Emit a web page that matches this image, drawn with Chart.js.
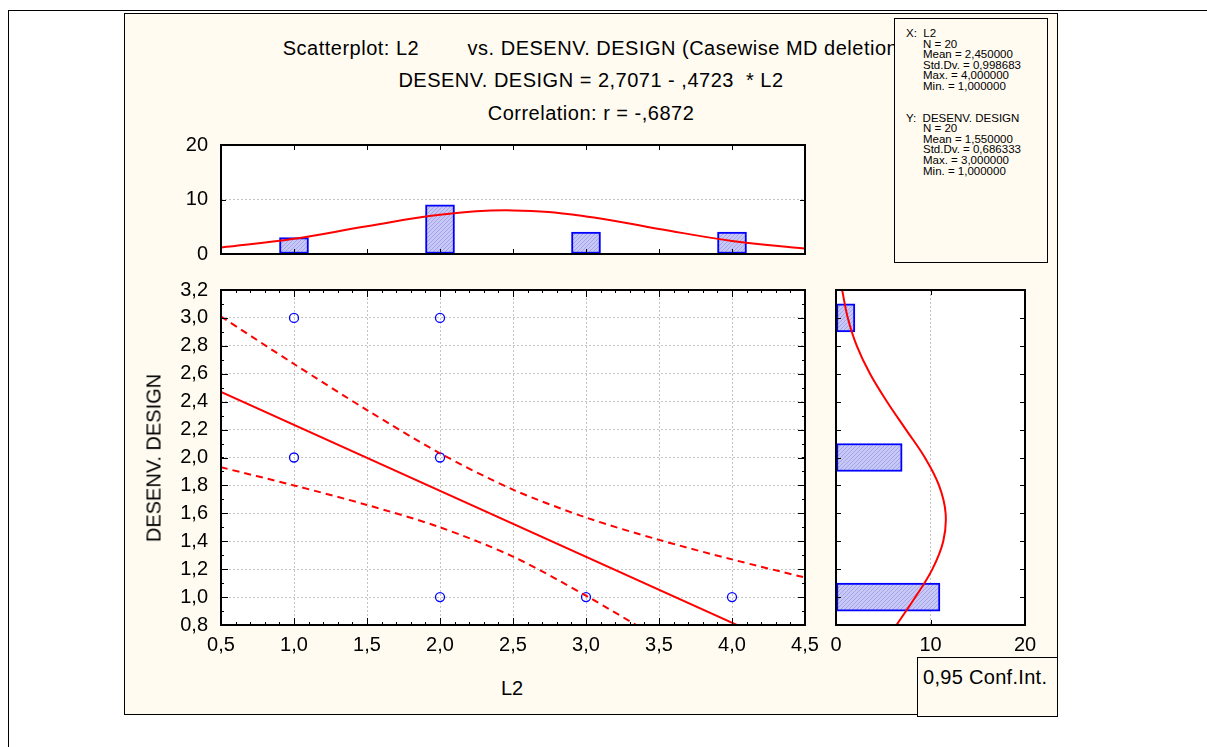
<!DOCTYPE html>
<html>
<head>
<meta charset="utf-8">
<script src="https://cdn.jsdelivr.net/npm/chart.js@4"></script>
<style>
  body { margin: 0; width: 1207px; height: 747px; background: #fff; position: relative; overflow: hidden;
         font-family: "Liberation Sans", Arial, sans-serif; color: #000; }
  .abs { position: absolute; }
  #frame { left: 8px; top: 10px; width: 1300px; height: 800px; border: 1px solid #000; }
  #panel { left: 124px; top: 13px; width: 934px; height: 702px; box-sizing: border-box;
           background: #fffbf0; border: 1px solid #000; }
  .title { left: 591px; transform: translate(-50%, -50%); white-space: pre; font-size: 20px; letter-spacing: 0.5px; }
  #stats { left: 894px; top: 18px; width: 154px; height: 245px; box-sizing: border-box;
           border: 1px solid #000; background: #fffbf0; font-size: 11.5px; line-height: 10.6px; }
  #stats div { white-space: pre; }
  #ci { left: 917px; top: 657px; width: 141px; height: 60px; box-sizing: border-box;
        border: 1px solid #000; background: #fffbf0; font-size: 20px; letter-spacing: 0.3px; padding: 8px 0 0 5px; }
  canvas { position: absolute; }
</style>
</head>
<body>
<div id="frame" class="abs"></div>
<div id="panel" class="abs"></div>

<div class="abs title" style="top:48px;left:594px">Scatterplot: L2        vs. DESENV. DESIGN (Casewise MD deletion)</div>
<div class="abs title" style="top:80px">DESENV. DESIGN = 2,7071 - ,4723  * L2</div>
<div class="abs title" style="top:113px">Correlation: r = -,6872</div>

<div id="stats" class="abs">
  <div style="margin:9px 0 0 11px">X:  L2</div>
  <div style="margin-left:28px">N = 20
Mean = 2,450000
Std.Dv. = 0,998683
Max. = 4,000000
Min. = 1,000000</div>
  <div style="margin:21px 0 0 11px">Y:  DESENV. DESIGN</div>
  <div style="margin-left:28px">N = 20
Mean = 1,550000
Std.Dv. = 0,686333
Max. = 3,000000
Min. = 1,000000</div>
</div>

<canvas id="topHist" style="left:160px;top:125px" width="665" height="150"></canvas>
<canvas id="scatter" style="left:160px;top:270px" width="665" height="400"></canvas>
<canvas id="rightHist" style="left:816px;top:270px" width="240" height="400"></canvas>

<div class="abs" style="left:512px;top:688px;transform:translate(-50%,-50%);font-size:20px">L2</div>
<div class="abs" style="left:154px;top:458px;transform:translate(-50%,-50%) rotate(-90deg);font-size:20px;white-space:nowrap">DESENV. DESIGN</div>

<div id="ci" class="abs">0,95 Conf.Int.</div>

<script>
'use strict';

// scatter data (L2 vs DESENV. DESIGN)
var pointX = [1, 2, 1, 2, 2, 3, 4];
var pointY = [3, 3, 2, 2, 1, 1, 1];

// fitted line and 0,95 band
var fitX = [0.5, 4.5];
var fitY = [2.47, 0.58];
var bandX = [0.5, 1.0, 1.5, 2.0, 2.5, 3.0, 3.5, 4.0, 4.5];
var upperY = [3.01, 2.67, 2.34, 2.03, 1.77, 1.57, 1.41, 1.27, 1.14];
var lowerY = [1.93, 1.80, 1.66, 1.50, 1.29, 1.01, 0.70, 0.37, 0.02];

// histogram of L2 (top)
var xBins = [1, 2, 3, 4];
var xCounts = [3, 9, 4, 4];
var xCurveX = [0.5, 1.0, 1.5, 2.0, 2.5, 3.0, 3.5, 4.0, 4.5];
var xCurveY = [1.2, 2.8, 5.1, 7.2, 8.0, 6.9, 4.6, 2.4, 1.0];

// histogram of DESENV. DESIGN (right)
var yBins = [1, 2, 3];
var yCounts = [11, 7, 2];
var yCurveY = [0.8, 1.0, 1.2, 1.4, 1.6, 1.8, 2.0, 2.2, 2.4, 2.6, 2.8, 3.0, 3.2];
var yCurveX = [6.4, 8.4, 10.2, 11.35, 11.6, 10.9, 9.4, 7.4, 5.4, 3.6, 2.2, 1.25, 0.65];

// tick labels
var xTickValues = [0.5, 1.0, 1.5, 2.0, 2.5, 3.0, 3.5, 4.0, 4.5];
var xTickLabels = ['0,5', '1,0', '1,5', '2,0', '2,5', '3,0', '3,5', '4,0', '4,5'];
var yTickValues = [0.8, 1.0, 1.2, 1.4, 1.6, 1.8, 2.0, 2.2, 2.4, 2.6, 2.8, 3.0, 3.2];
var yTickLabels = ['0,8', '1,0', '1,2', '1,4', '1,6', '1,8', '2,0', '2,2', '2,4', '2,6', '2,8', '3,0', '3,2'];
var countTickValues = [0, 10, 20];
var countTickLabels = ['0', '10', '20'];

function pairs(xs, ys) {
    return xs.map(function (v, i) { return { x: v, y: ys[i] }; });
}

function fixTicks(values) {
    return function (scale) {
        scale.ticks = values.map(function (v) { return { value: v }; });
    };
}

// fixed axis size, no extra label padding
function fitTo(prop, size) {
    return function (s) {
        s[prop] = size;
        s.paddingTop = 0; s.paddingBottom = 0;
        s.paddingLeft = 0; s.paddingRight = 0;
    };
}

function hatch() {
    var c = document.createElement('canvas');
    c.width = 4; c.height = 4;
    var g = c.getContext('2d');
    g.fillStyle = '#c8c8f6';
    g.fillRect(0, 0, 4, 4);
    g.strokeStyle = '#a4a4ea';
    g.lineWidth = 1;
    g.beginPath();
    g.moveTo(0, 4); g.lineTo(4, 0);
    g.stroke();
    return g.createPattern(c, 'repeat');
}
var barFill = hatch();

// white plot area, black box, inward ticks on all sides
var framePlugin = {
    id: 'frame',
    beforeDraw: function (chart) {
        var a = chart.chartArea, ctx = chart.ctx;
        ctx.save();
        ctx.fillStyle = '#fff';
        ctx.fillRect(a.left, a.top, a.right - a.left, a.bottom - a.top);
        ctx.restore();
    },
    afterDraw: function (chart, args, opts) {
        var a = chart.chartArea, ctx = chart.ctx;
        var x = chart.scales.x, y = chart.scales.y;
        ctx.save();
        ctx.strokeStyle = '#000';
        ctx.lineWidth = 1;
        ctx.beginPath();
        function xTick(v, len) {
            var p = Math.round(x.getPixelForValue(v)) + 0.5;
            ctx.moveTo(p, a.bottom); ctx.lineTo(p, a.bottom - len);
            ctx.moveTo(p, a.top); ctx.lineTo(p, a.top + len);
        }
        function yTick(v, len) {
            var p = Math.round(y.getPixelForValue(v)) + 0.5;
            ctx.moveTo(a.left, p); ctx.lineTo(a.left + len, p);
            ctx.moveTo(a.right, p); ctx.lineTo(a.right - len, p);
        }
        var v;
        if (opts.xMinor) {
            for (v = x.min; v <= x.max + 1e-9; v += opts.xMinor) xTick(v, 3);
        }
        if (opts.yMinor) {
            for (v = y.min; v <= y.max + 1e-9; v += opts.yMinor) yTick(v, 3);
        }
        x.ticks.forEach(function (t) { xTick(t.value, opts.len || 6); });
        y.ticks.forEach(function (t) { yTick(t.value, opts.len || 6); });
        ctx.stroke();
        ctx.lineWidth = 2;
        ctx.strokeRect(a.left, a.top, a.right - a.left, a.bottom - a.top);
        ctx.restore();
    }
};

Chart.defaults.font.family = '"Liberation Sans", Arial, sans-serif';
Chart.defaults.font.size = 20;
Chart.defaults.color = '#000';
Chart.defaults.animation = false;
Chart.defaults.plugins.legend.display = false;
Chart.defaults.plugins.tooltip.enabled = false;
Chart.register(framePlugin);

var dotted = { color: '#c4c4c4', lineWidth: 1, drawTicks: false };

// Top histogram
new Chart(document.getElementById('topHist'), {
    type: 'bar',
    data: {
        datasets: [{
            type: 'line',
            data: pairs(xCurveX, xCurveY),
            borderColor: '#ff0000',
            borderWidth: 2,
            pointRadius: 0,
            tension: 0.4
        }, {
            data: pairs(xBins, xCounts),
            backgroundColor: barFill,
            borderColor: '#0000ff',
            borderWidth: 2,
            borderSkipped: false,
            barThickness: 29
        }]
    },
    options: {
        responsive: false,
        layout: { autoPadding: false, padding: { top: 20, right: 20, bottom: 10, left: 0 } },
        plugins: { frame: { len: 5 } },
        scales: {
            x: {
                type: 'linear', min: 0.5, max: 4.5, offset: false,
                afterBuildTicks: fixTicks(xTickValues),
                afterFit: fitTo('height', 11),
                ticks: { display: false },
                grid: { display: false },
                border: { display: false }
            },
            y: {
                min: 0, max: 20,
                afterBuildTicks: fixTicks(countTickValues),
                afterFit: fitTo('width', 61),
                ticks: { padding: 13, callback: function (v, i) { return countTickLabels[i]; } },
                grid: dotted,
                border: { display: false, dash: [2, 2] }
            }
        }
    }
});

// Scatterplot
new Chart(document.getElementById('scatter'), {
    type: 'scatter',
    data: {
        datasets: [{
            data: pairs(fitX, fitY),
            showLine: true,
            borderColor: '#ff0000',
            borderWidth: 2,
            pointRadius: 0
        }, {
            data: pairs(bandX, upperY),
            showLine: true,
            borderColor: '#ff0000',
            borderWidth: 2,
            borderDash: [7, 5],
            pointRadius: 0,
            tension: 0.3
        }, {
            data: pairs(bandX, lowerY),
            showLine: true,
            borderColor: '#ff0000',
            borderWidth: 2,
            borderDash: [7, 5],
            pointRadius: 0,
            tension: 0.3
        }, {
            data: pairs(pointX, pointY),
            pointRadius: 4.5,
            pointBorderWidth: 1.3,
            borderColor: '#0000ff',
            backgroundColor: 'rgba(0,0,0,0)'
        }]
    },
    options: {
        responsive: false,
        layout: { autoPadding: false, padding: { top: 20, right: 20, bottom: 10, left: 0 } },
        plugins: { frame: { xMinor: 0.1, yMinor: 0.1, len: 7 } },
        scales: {
            x: {
                min: 0.5, max: 4.5,
                afterBuildTicks: fixTicks(xTickValues),
                afterFit: fitTo('height', 35),
                ticks: { padding: 8, maxRotation: 0, callback: function (v, i) { return xTickLabels[i]; } },
                grid: dotted,
                border: { display: false, dash: [2, 2] }
            },
            y: {
                min: 0.8, max: 3.2,
                afterBuildTicks: fixTicks(yTickValues),
                afterFit: fitTo('width', 61),
                ticks: { padding: 13, callback: function (v, i) { return yTickLabels[i]; } },
                grid: dotted,
                border: { display: false, dash: [2, 2] }
            }
        }
    }
});

// Right histogram
new Chart(document.getElementById('rightHist'), {
    type: 'bar',
    data: {
        datasets: [{
            type: 'line',
            data: pairs(yCurveX, yCurveY),
            borderColor: '#ff0000',
            borderWidth: 2,
            pointRadius: 0,
            tension: 0.4
        }, {
            data: pairs(yCounts, yBins),
            backgroundColor: barFill,
            borderColor: '#0000ff',
            borderWidth: 2,
            borderSkipped: false,
            barThickness: 28
        }]
    },
    options: {
        responsive: false,
        indexAxis: 'y',
        layout: { autoPadding: false, padding: { top: 20, right: 31, bottom: 10, left: 0 } },
        plugins: { frame: { len: 5 } },
        scales: {
            x: {
                type: 'linear', min: 0, max: 20,
                afterBuildTicks: fixTicks(countTickValues),
                afterFit: fitTo('height', 35),
                ticks: { padding: 8, maxRotation: 0, callback: function (v, i) { return countTickLabels[i]; } },
                grid: dotted,
                border: { display: false, dash: [2, 2] }
            },
            y: {
                type: 'linear', min: 0.8, max: 3.2, offset: false,
                afterBuildTicks: fixTicks(yTickValues),
                afterFit: fitTo('width', 20),
                ticks: { display: false },
                grid: { display: false },
                border: { display: false }
            }
        }
    }
});
</script>
</body>
</html>
